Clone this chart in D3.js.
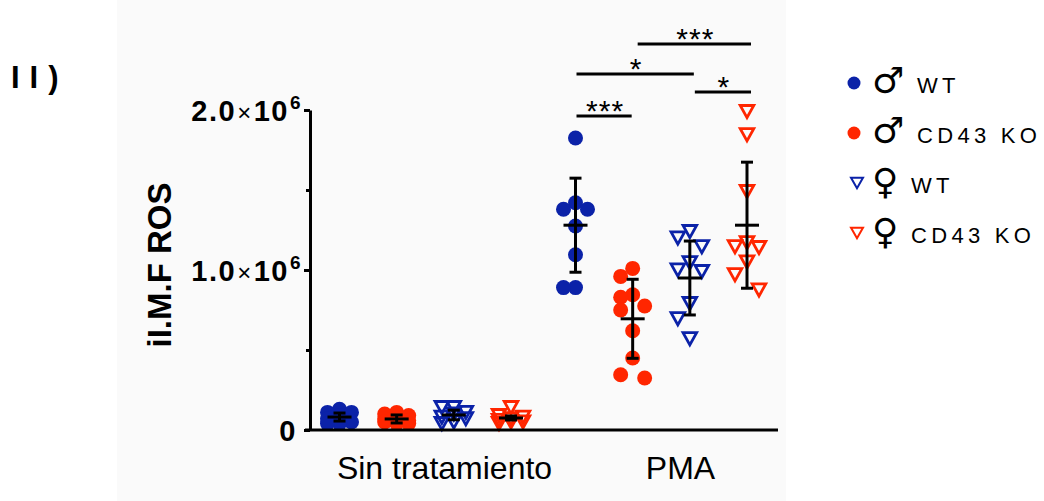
<!DOCTYPE html>
<html><head><meta charset="utf-8">
<script src="https://cdn.jsdelivr.net/npm/d3@7"></script>
<style>body{margin:0;background:#fff;} svg{display:block}</style>
</head><body><svg id="c" width="1044" height="501"></svg>
<script>
// ---------- DATA ----------
const categories = ["Sin tratamiento", "PMA"];
const groups = ["maleWT", "maleKO", "femaleWT", "femaleKO"];
const groupSex = ["\u2642", "\u2642", "\u2640", "\u2640"];
const groupNames = ["WT", "CD43 KO", "WT", "CD43 KO"];
const groupShape = ["circle", "circle", "triangle", "triangle"];
const groupColor = ["#0b22a8", "#ff2600", "#0b22a8", "#ff2600"];

// values in units of 10^6
const sinMaleWT   = [0.13, 0.11, 0.11, 0.09, 0.07, 0.05, 0.04, 0.04];
const sinMaleKO   = [0.11, 0.10, 0.09, 0.08, 0.07, 0.06, 0.05, 0.05, 0.04, 0.04];
const sinFemaleWT = [0.14, 0.14, 0.11, 0.10, 0.08, 0.07, 0.05, 0.04];
const sinFemaleKO = [0.14, 0.09, 0.08, 0.07, 0.06, 0.05, 0.05, 0.04];
const pmaMaleWT   = [1.825, 1.42, 1.38, 1.38, 1.275, 1.095, 0.89, 0.89];
const pmaMaleKO   = [1.01, 0.96, 0.845, 0.83, 0.775, 0.75, 0.62, 0.45, 0.345, 0.325];
const pmaFemaleWT = [1.24, 1.20, 1.145, 1.045, 1.00, 0.99, 0.79, 0.695, 0.57];
const pmaFemaleKO = [1.99, 1.845, 1.49, 1.17, 1.145, 1.14, 1.05, 0.97, 0.875];

const meanSin = [0.081, 0.069, 0.094, 0.075];
const sdSin   = [0.025, 0.025, 0.030, 0.0125];
const meanPMA = [1.28, 0.695, 0.95, 1.28];
const sdPMA   = [0.294, 0.247, 0.231, 0.394];

const majorTicks = [0, 1, 2];
const majorTickMant = ["0", "1.0", "2.0"];
const minorTicks = [0.5, 1.5];

// significance (PMA): pairs of group indices, label, bracket height (10^6)
const sigPairs  = [[0, 1], [0, 2], [2, 3], [1, 3]];
const sigLabels = ["***", "*", "*", "***"];
const sigHeight = [1.9625, 2.225, 2.1125, 2.4125];

const yTitle = "iI.M.F ROS";
const panelLabel = "II)";

// ---------- DRAW ----------
const svg = d3.select("#c");
svg.append("rect").attr("x", 117).attr("y", 0).attr("width", 669).attr("height", 501).attr("fill", "#fafafa");

const y = d3.scaleLinear().domain([0, 2]).range([430, 110]);
const x = d3.scaleBand().domain(categories).range([326.5, 798.5]);
const xg = d3.scalePoint().domain(groups).range([13, 184.5]);
const gx = (cat, gi) => x(cat) + xg(groups[gi]);

const seriesByCat = {
  "Sin tratamiento": [sinMaleWT, sinMaleKO, sinFemaleWT, sinFemaleKO],
  "PMA": [pmaMaleWT, pmaMaleKO, pmaFemaleWT, pmaFemaleKO]
};
const meanByCat = {"Sin tratamiento": meanSin, "PMA": meanPMA};
const sdByCat = {"Sin tratamiento": sdSin, "PMA": sdPMA};

const triPath = (w, h) => `M${-w/2},${-h/2}L${w/2},${-h/2}L0,${h/2}Z`;

// column-based swarm: columns at -12, 0, +12
function swarm(vals) {
  const cand = [0, -12, 12];
  const placed = [];
  vals.slice().sort((a, b) => b - a).forEach(v => {
    const py = y(v);
    let best = 0, bestD = -1;
    for (const o of cand) {
      let md = Infinity;
      for (const p of placed) md = Math.min(md, Math.hypot(p.o - o, p.py - py));
      if (md >= 20) { best = o; break; }
      if (md > bestD) { bestD = md; best = o; }
    }
    placed.push({v, py, o: best});
  });
  return placed;
}

// Points
const pts = svg.append("g");
categories.forEach(cat => {
  seriesByCat[cat].forEach((vals, gi) => {
    const cx = gx(cat, gi);
    const placed = swarm(vals);
    const g = pts.append("g");
    if (groupShape[gi] === "circle") {
      g.selectAll("circle").data(placed).join("circle")
        .attr("cx", d => cx + d.o).attr("cy", d => y(d.v)).attr("r", 7.5)
        .attr("fill", groupColor[gi]);
    } else {
      g.selectAll("path").data(placed).join("path")
        .attr("transform", d => `translate(${cx + d.o},${y(d.v)})`)
        .attr("d", triPath(13.6, 12.2))
        .attr("fill", "none").attr("stroke", groupColor[gi]).attr("stroke-width", 2.8);
    }
  });
});

// Error bars
const eb = svg.append("g").attr("stroke", "#000").attr("stroke-width", 3);
categories.forEach(cat => {
  meanByCat[cat].forEach((m, gi) => {
    const cx = gx(cat, gi), s = sdByCat[cat][gi];
    eb.append("line").attr("x1", cx).attr("x2", cx).attr("y1", y(m + s)).attr("y2", y(m - s));
    eb.append("line").attr("x1", cx - 6).attr("x2", cx + 6).attr("y1", y(m + s)).attr("y2", y(m + s));
    eb.append("line").attr("x1", cx - 6).attr("x2", cx + 6).attr("y1", y(m - s)).attr("y2", y(m - s));
    eb.append("line").attr("x1", cx - 12).attr("x2", cx + 12).attr("y1", y(m)).attr("y2", y(m));
  });
});

// Significance brackets
const sg = svg.append("g");
sigPairs.forEach((p, i) => {
  const x1 = gx("PMA", p[0]) + (p[0] === 0 ? 1 : 5);
  const x2 = gx("PMA", p[1]) + (p[1] === 1 ? -1 : 4);
  const yy = y(sigHeight[i]);
  sg.append("line").attr("x1", x1).attr("x2", x2).attr("y1", yy).attr("y2", yy)
    .attr("stroke", "#000").attr("stroke-width", 3);
  sg.append("text").attr("x", (x1 + x2) / 2 + 1).attr("y", yy + 5)
    .attr("text-anchor", "middle").attr("font-family", "Liberation Sans, Arial, sans-serif")
    .attr("font-size", 30).attr("letter-spacing", 1).attr("fill", "#000").text(sigLabels[i]);
});

// Y axis
const ya = svg.append("g").attr("transform", "translate(310,0)");
ya.call(d3.axisLeft(y).tickValues(majorTicks).tickSize(6).tickSizeOuter(0).tickFormat(() => ""));
ya.selectAll(".domain, .tick line").attr("stroke", "#000").attr("stroke-width", 3);
const ym = svg.append("g").attr("transform", "translate(310,0)");
ym.call(d3.axisLeft(y).tickValues(minorTicks).tickSize(4).tickSizeOuter(0).tickFormat(() => ""));
ym.select(".domain").remove();
ym.selectAll(".tick line").attr("stroke", "#000").attr("stroke-width", 3);

ya.selectAll(".tick text").each(function(d) {
  const t = d3.select(this);
  t.text(null).attr("x", d === 0 ? -13 : -8).attr("dy", null).attr("y", 10)
    .attr("fill", "#000").attr("font-family", "Liberation Sans, Arial, sans-serif")
    .attr("font-weight", "bold").attr("font-size", 29).attr("letter-spacing", 1.5)
    .attr("text-anchor", "end");
  const idx = majorTicks.indexOf(d);
  t.append("tspan").text(majorTickMant[idx]);
  if (d !== 0) {
    t.append("tspan").attr("font-weight", "normal").attr("font-size", 24).attr("dx", 1).text("\u00d7");
    t.append("tspan").attr("dx", 1).text("10");
    t.append("tspan").attr("font-size", 19).attr("dy", -12).attr("dx", 1).text("6");
  }
});

// X axis
const xa = svg.append("g").attr("transform", `translate(0,${y(0)})`);
xa.call(d3.axisBottom(x).tickSize(0).tickSizeOuter(0));
xa.select(".domain").remove();
xa.selectAll(".tick text").attr("y", 49).attr("dy", null)
  .attr("font-family", "Liberation Sans, Arial, sans-serif").attr("font-size", 32).attr("fill", "#000");
svg.append("line").attr("x1", 305).attr("x2", 778).attr("y1", y(0)).attr("y2", y(0))
  .attr("stroke", "#000").attr("stroke-width", 3);

// Y title
svg.append("text").attr("transform", "translate(171,265) rotate(-90)")
  .attr("text-anchor", "middle").attr("font-family", "Liberation Sans, Arial, sans-serif")
  .attr("font-weight", "bold").attr("font-size", 33).attr("fill", "#000").text(yTitle);

// Panel label
svg.append("text").attr("x", 11).attr("y", 88)
  .attr("font-family", "Liberation Sans, Arial, sans-serif").attr("font-weight", "bold")
  .attr("font-size", 31).attr("letter-spacing", 10).attr("fill", "#000").text(panelLabel);

// Legend
const lg = svg.append("g");
groups.forEach((g, i) => {
  const cy = 83 + i * 50;
  if (groupShape[i] === "circle") {
    lg.append("circle").attr("cx", 854).attr("cy", cy).attr("r", 6.5).attr("fill", groupColor[i]);
  } else {
    lg.append("path").attr("transform", `translate(857,${cy})`).attr("d", triPath(12, 10.5))
      .attr("fill", "none").attr("stroke", groupColor[i]).attr("stroke-width", 2);
  }
  lg.append("text").attr("x", 872).attr("y", cy + (groupShape[i] === "circle" ? 10 : 11))
    .attr("font-family", "DejaVu Sans, sans-serif").attr("font-weight", "bold")
    .attr("font-size", 36).attr("fill", "#000").text(groupSex[i]);
  lg.append("text").attr("x", groupShape[i] === "circle" ? 917 : 911).attr("y", cy + 10)
    .attr("font-family", "Liberation Sans, Arial, sans-serif").attr("font-size", 22)
    .attr("letter-spacing", 4.3).attr("fill", "#000").text(groupNames[i]);
});
</script>
</body></html>
